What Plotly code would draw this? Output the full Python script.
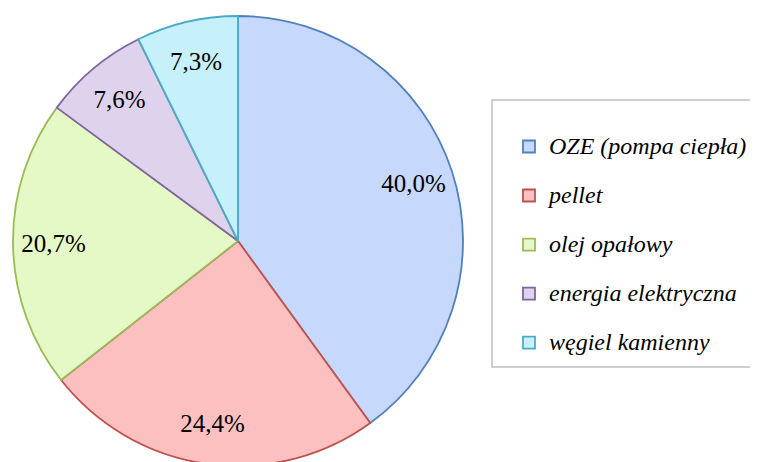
import plotly.graph_objects as go

# --- DADOS ---
categorias = [
    "OZE (pompa ciepła)",
    "pellet",
    "olej opałowy",
    "energia elektryczna",
    "węgiel kamienny",
]
udzialy = [40.0, 24.4, 20.7, 7.6, 7.3]

# wypełnienie (środek gradientu) i obrys każdego wycinka
KOLORY = ["#c6d8fc", "#fbc0bf", "#e5f9c6", "#dfd2ec", "#c6f0fa"]
OBRYSY = ["#4f81bd", "#c0504d", "#9bbb59", "#8064a2", "#4bacc6"]

SERIF = "Liberation Serif, DejaVu Serif, serif"

# etykiety legendy: mniejsza czcionka w środku, wiersz legendy wyższy
etykiety = [
    f'<span style="font-size:24px;baseline-shift:6px">{c}</span>' for c in categorias
]

fig = go.Figure()

# 1. wycinki (bez tekstu)
fig.add_trace(
    go.Pie(
        labels=etykiety,
        values=udzialy,
        sort=False,
        direction="clockwise",
        rotation=0,
        marker=dict(colors=KOLORY, line=dict(color=OBRYSY, width=1.8)),
        textinfo="none",
        hoverinfo="label+percent",
    )
)

# 2. przezroczysty pierścień tylko dla etykiet -> etykiety bliżej krawędzi
fig.add_trace(
    go.Pie(
        labels=categorias,
        values=udzialy,
        sort=False,
        direction="clockwise",
        rotation=0,
        hole=0.64,
        marker=dict(colors=["rgba(0,0,0,0)"] * len(udzialy), line=dict(width=0)),
        texttemplate="%{percent:.1%}",
        textposition="inside",
        insidetextorientation="horizontal",
        textfont=dict(family=SERIF, size=25, color="#000000"),
        showlegend=False,
        hoverinfo="skip",
    )
)

fig.update_layout(
    width=758,
    height=462,
    separators=", ",
    paper_bgcolor="#ffffff",
    margin=dict(l=5, r=303, t=8, b=4),
    font=dict(family=SERIF, color="#000000"),
    uniformtext=dict(minsize=25, mode="show"),
    legend=dict(
        x=1.1022,
        xanchor="left",
        y=0.7756,
        yanchor="top",
        borderwidth=0,
        bgcolor="rgba(0,0,0,0)",
        font=dict(family=SERIF, size=35.4, color="#000000", style="italic"),
    ),
    # ramka legendy
    shapes=[
        dict(
            type="rect",
            xref="paper",
            yref="paper",
            x0=1.0644,
            x1=1.6533,
            y0=0.22,
            y1=0.8133,
            line=dict(color="#bfbfbf", width=1.5),
            fillcolor="#ffffff",
            layer="below",
        )
    ],
)

fig.write_html("out.html")
